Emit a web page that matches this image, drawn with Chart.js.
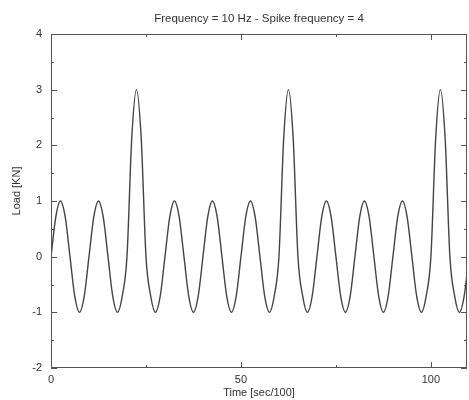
<!DOCTYPE html>
<html lang="en">
<head>
    <meta charset="UTF-8">
    <title>Load vs time</title>
    <script src="https://cdn.jsdelivr.net/npm/chart.js"></script>
    <style>
        body { margin: 0; background: #fff; }
        #grafico { display: block; }
    </style>
</head>
<body>
    <canvas id="grafico" width="469" height="400"></canvas>

<script>
    // dados (tempo em sec/100, carga em KN)
    const tempos = [
        0, 1.25, 2.5, 3.75, 5, 6.25, 7.5, 8.75,
        10, 11.25, 12.5, 13.75, 15, 16.25, 17.5, 18.75,
        20, 21.25, 22.5, 23.75, 25, 26.25, 27.5, 28.75,
        30, 31.25, 32.5, 33.75, 35, 36.25, 37.5, 38.75,
        40, 41.25, 42.5, 43.75, 45, 46.25, 47.5, 48.75,
        50, 51.25, 52.5, 53.75, 55, 56.25, 57.5, 58.75,
        60, 61.25, 62.5, 63.75, 65, 66.25, 67.5, 68.75,
        70, 71.25, 72.5, 73.75, 75, 76.25, 77.5, 78.75,
        80, 81.25, 82.5, 83.75, 85, 86.25, 87.5, 88.75,
        90, 91.25, 92.5, 93.75, 95, 96.25, 97.5, 98.75,
        100, 101.25, 102.5, 103.75, 105, 106.25, 107.5, 108.75,
        110
    ];
    const carga = [
        0, 0.71, 1, 0.71, 0, -0.71, -1, -0.71,
        0, 0.71, 1, 0.71, 0, -0.71, -1, -0.71,
        0, 2.12, 3, 2.12, 0, -0.71, -1, -0.71,
        0, 0.71, 1, 0.71, 0, -0.71, -1, -0.71,
        0, 0.71, 1, 0.71, 0, -0.71, -1, -0.71,
        0, 0.71, 1, 0.71, 0, -0.71, -1, -0.71,
        0, 2.12, 3, 2.12, 0, -0.71, -1, -0.71,
        0, 0.71, 1, 0.71, 0, -0.71, -1, -0.71,
        0, 0.71, 1, 0.71, 0, -0.71, -1, -0.71,
        0, 0.71, 1, 0.71, 0, -0.71, -1, -0.71,
        0, 2.12, 3, 2.12, 0, -0.71, -1, -0.71,
        0
    ];

    // marcas dos eixos
    const xMaiores = [0, 50, 100];
    const xMenores = [25, 75];
    const yMaiores = [-2, -1, 0, 1, 2, 3, 4];
    const yMenores = [-1.5, -0.5, 0.5, 1.5, 2.5, 3.5];

    const titulo = 'Frequency = 10 Hz - Spike frequency = 4';
    const tituloX = 'Time [sec/100]';
    const tituloY = 'Load [KN]';

    const fonte = '"Liberation Sans", Arial, sans-serif';
    const corTexto = '#333';
    const corEixo = '#555';

    // moldura, marcas internas e textos
    const moldura = {
        id: 'moldura',
        afterDraw(chart) {
            const ctx = chart.ctx;
            const a = chart.chartArea;
            const sx = chart.scales.x;
            const sy = chart.scales.y;
            ctx.save();
            ctx.strokeStyle = corEixo;
            ctx.lineWidth = 1;
            ctx.strokeRect(a.left + 0.5, a.top + 0.5, a.right - a.left - 1, a.bottom - a.top - 1);

            ctx.beginPath();
            function marcaX(v, len) {
                const px = Math.round(sx.getPixelForValue(v)) + 0.5;
                ctx.moveTo(px, a.bottom); ctx.lineTo(px, a.bottom - len);
                ctx.moveTo(px, a.top); ctx.lineTo(px, a.top + len);
            }
            function marcaY(v, len) {
                const py = Math.round(sy.getPixelForValue(v)) + 0.5;
                ctx.moveTo(a.left, py); ctx.lineTo(a.left + len, py);
                ctx.moveTo(a.right, py); ctx.lineTo(a.right - len, py);
            }
            xMaiores.forEach(v => marcaX(v, 6));
            xMenores.forEach(v => marcaX(v, 3));
            yMaiores.forEach(v => marcaY(v, 6));
            yMenores.forEach(v => marcaY(v, 3));
            ctx.stroke();

            ctx.fillStyle = corTexto;
            ctx.textAlign = 'center';
            ctx.textBaseline = 'middle';
            ctx.font = '11.5px ' + fonte;
            ctx.fillText(titulo, (a.left + a.right) / 2, 19);
            ctx.font = '11px ' + fonte;
            ctx.fillText(tituloX, (a.left + a.right) / 2, 393);

            ctx.translate(17, 191);
            ctx.rotate(-Math.PI / 2);
            ctx.fillText(tituloY, 0, 0);
            ctx.restore();
        }
    };

    const pontos = tempos.map((t, i) => ({ x: t, y: carga[i] }));

    const config = {
        type: 'line',
        data: {
            datasets: [{
                label: 'Load',
                data: pontos,
                borderColor: '#444',
                borderWidth: 1.4,
                pointRadius: 0,
                fill: false,
                cubicInterpolationMode: 'monotone'
            }]
        },
        options: {
            responsive: false,
            animation: false,
            devicePixelRatio: 1,
            layout: { padding: { top: 34, right: 2, left: 0, bottom: 0 } },
            plugins: {
                legend: { display: false },
                title: { display: false },
                tooltip: { enabled: false }
            },
            scales: {
                x: {
                    type: 'linear',
                    min: 0,
                    max: 109.5,
                    afterFit(s) { s.height = 32; },
                    ticks: {
                        stepSize: 50,
                        includeBounds: false,
                        maxRotation: 0,
                        padding: 5,
                        color: corTexto,
                        font: { size: 11, family: fonte }
                    },
                    grid: { drawOnChartArea: false, drawTicks: false },
                    border: { display: false }
                },
                y: {
                    min: -2,
                    max: 4,
                    afterFit(s) { s.width = 51; },
                    ticks: {
                        stepSize: 1,
                        padding: 9,
                        color: corTexto,
                        font: { size: 11, family: fonte }
                    },
                    grid: { drawOnChartArea: false, drawTicks: false },
                    border: { display: false }
                }
            }
        },
        plugins: [moldura]
    };

    new Chart(document.getElementById('grafico'), config);
</script>
</body>
</html>
